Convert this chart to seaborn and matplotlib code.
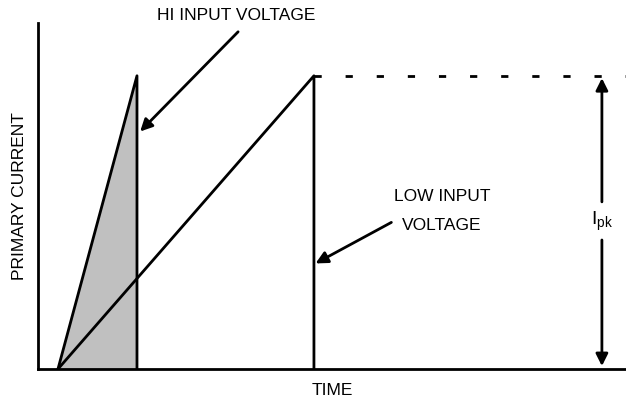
import matplotlib
matplotlib.use("Agg")
import matplotlib.pyplot as plt
import seaborn as sns
import pandas as pd

# ramp shapes, in time units (hi-voltage on-time = 1) and current units (Ipk = 1)
t_hi = [0.0, 1.0, 1.0]
i_hi = [0.0, 1.0, 0.0]
t_lo = [0.0, 3.24, 3.24]
i_lo = [0.0, 1.0, 0.0]
i_pk = 1.0
t_ipk_arrow = 6.885
t_end = 7.19
i_top = 1.18

labels = {
    "hi": "HI INPUT VOLTAGE",
    "lo1": "LOW INPUT",
    "lo2": "VOLTAGE",
    "ipk": "I$_{\\mathregular{pk}}$",
    "x": "TIME",
    "y": "PRIMARY CURRENT",
}

sns.set_style("white")
plt.rcParams["font.family"] = ["Liberation Sans", "DejaVu Sans"]
plt.rcParams["mathtext.fontset"] = "custom"
plt.rcParams["mathtext.rm"] = "Liberation Sans"
plt.rcParams["text.color"] = "black"
plt.rcParams["axes.labelcolor"] = "black"

fig = plt.figure(figsize=(6.26, 4.0), dpi=100)
W, H = 626, 400
ax = fig.add_axes([38 / W, (H - 369) / H, (W - 38) / W, (369 - 23) / H])
ax.set_xlim(-0.253, t_end)
ax.set_ylim(0, i_top)

lw = 2.0
df_hi = pd.DataFrame({"t": t_hi, "i": i_hi})
df_lo = pd.DataFrame({"t": t_lo, "i": i_lo})
ax.fill_between(t_hi, i_hi, 0, color="#c0c0c0", lw=0)
for d in (df_hi, df_lo):
    sns.lineplot(data=d, x="t", y="i", sort=False, estimator=None, errorbar=None,
                 color="black", lw=lw, ax=ax)

# peak level dashed line
ax.plot([t_lo[1], t_end], [i_pk, i_pk], color="black", lw=lw,
        dashes=(2.6, 8.6), clip_on=False)

# Ipk double arrow
arrow_kw = dict(arrowstyle="-|>", color="black", lw=lw, mutation_scale=18,
                shrinkA=0, shrinkB=0)
ax.annotate("", xy=(t_ipk_arrow, i_pk - 0.008), xytext=(t_ipk_arrow, 0.57),
            arrowprops=arrow_kw)
ax.annotate("", xy=(t_ipk_arrow, 0.01), xytext=(t_ipk_arrow, 0.44),
            arrowprops=arrow_kw)
ax.text(t_ipk_arrow, 0.505, labels["ipk"], ha="center", va="center", fontsize=14)

# callouts
ax.annotate("", xy=(1.04, 0.81), xytext=(2.28, 1.15), arrowprops=arrow_kw,
            annotation_clip=False)
ax.text(2.26, 1.205, labels["hi"], ha="center", va="center", fontsize=12.5)
ax.annotate("", xy=(3.26, 0.36), xytext=(4.22, 0.50), arrowprops=arrow_kw)
ax.text(4.86, 0.587, labels["lo1"], ha="center", va="center", fontsize=12.5)
ax.text(4.86, 0.491, labels["lo2"], ha="center", va="center", fontsize=12.5)

ax.set_xticks([])
ax.set_yticks([])
ax.set_xlabel(labels["x"], fontsize=12.5, labelpad=10)
ax.set_ylabel(labels["y"], fontsize=12.5, labelpad=8)
sns.despine(ax=ax)
for s in ("left", "bottom"):
    ax.spines[s].set_linewidth(lw)
    ax.spines[s].set_color("black")

fig.savefig("out.png", dpi=100)
